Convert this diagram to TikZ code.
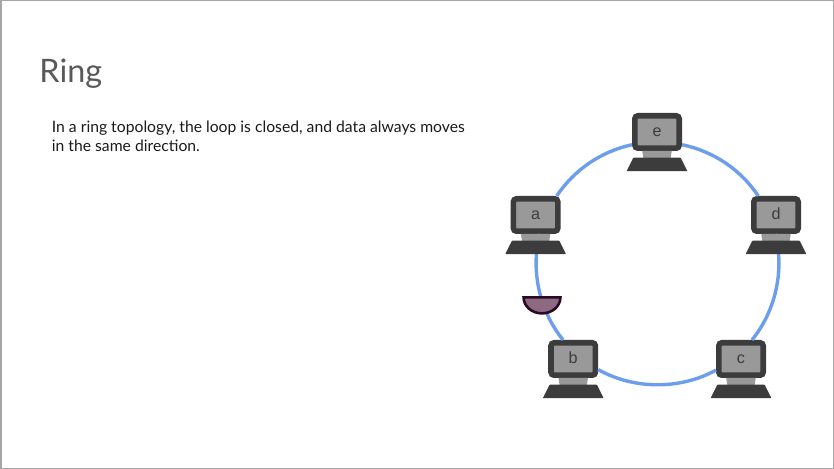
\documentclass[tikz,border=0pt]{standalone}
\usepackage{fontspec}
\setmainfont{Lato}
\newfontfamily\labelfont{Liberation Sans}
\usepackage{xcolor}
\usetikzlibrary{positioning}
\definecolor{frameclr}{HTML}{A6A6A6}
\definecolor{titleclr}{HTML}{595959}
\definecolor{bodyclr}{HTML}{1A1A1A}
\definecolor{ringclr}{HTML}{6D9EEB}
\definecolor{caseclr}{HTML}{3C3C3C}
\definecolor{panelclr}{HTML}{999999}
\definecolor{bowlclr}{HTML}{8E6A82}
\definecolor{bowlline}{HTML}{2A0A22}

\begin{document}
\begin{tikzpicture}[
    screen/.style={draw=caseclr, fill=panelclr, line width=0.14cm, rounded corners=2.2pt,
      minimum width=1.11cm, minimum height=0.81cm, inner sep=0pt,
      font=\labelfont\fontsize{11.5}{12}\selectfont, text=caseclr, text height=6.4pt, text depth=0pt},
    link/.style={ringclr, line width=0.085cm, looseness=0.89},
    txt/.style={anchor=base west, inner sep=0pt, align=left}]

  \useasboundingbox (0,0) rectangle (20.85,11.725);
  \draw[frameclr, line width=0.04cm] (0.02,0.01) rectangle (20.84,11.715);

  \node[txt, text=titleclr, font=\fontsize{23}{28}\selectfont] (title) at (0.98,9.67) {Ring};
  \node[txt, text=bodyclr, font=\fontsize{11.18}{13.5}\selectfont] (intro) at (1.29,7.94)
    {In a ring topology, the loop is closed, and data always moves\\ in the same direction.};

  \foreach \name/\x/\y in {a/13.39/6.35, b/14.33/2.75, c/18.525/2.75, d/19.4/6.35, e/16.425/8.425}
    \node[screen] (\name) at (\x,\y) {\name};

  \draw[link] (e.207) to[bend right=22] (a.42);
  \draw[link] (a.-78) to[bend right=26.5] (b.118);
  \draw[link] (b.-23) to[bend right=29] (c.204);
  \draw[link] (c.60) to[bend right=26.5] (d.-92);
  \draw[link] (d.133) to[bend right=22.3] (e.-27);

  % stand and keyboard under each screen
  \foreach \name in {a,b,c,d,e} {
    \fill[panelclr] (\name) ++(-0.37,-0.47) -- ++(0.74,0) -- ++(-0.03,-0.18) -- ++(-0.68,0) -- cycle;
    \fill[caseclr, rounded corners=0.5pt] (\name) ++(-0.59,-0.64) -- ++(1.18,0) -- ++(0.17,-0.34) -- ++(-1.52,0) -- cycle;
  }

  \draw[bowlline, fill=bowlclr, line width=0.065cm] (13.09,4.29)
    arc[start angle=180, end angle=360, x radius=0.46, y radius=0.40] -- cycle;
\end{tikzpicture}
\end{document}
